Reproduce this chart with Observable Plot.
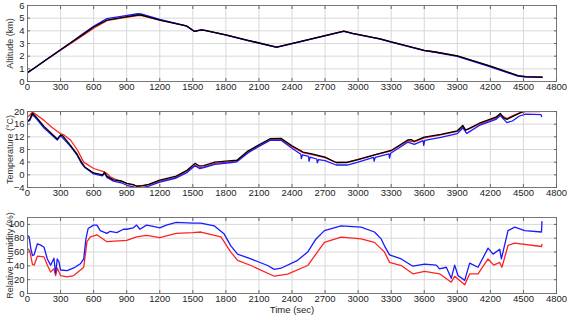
<!DOCTYPE html>
<html><head><meta charset="utf-8">
<script src="https://cdn.jsdelivr.net/npm/d3@7"></script>
<script src="https://cdn.jsdelivr.net/npm/@observablehq/plot@0.6"></script>
<style>body{margin:0;background:#fff}#c svg{display:block;overflow:visible}</style>
</head><body><div id="c"></div>
<script>
const xTicks = [0,300,600,900,1200,1500,1800,2100,2400,2700,3000,3300,3600,3900,4200,4500,4800];
const altTicks = [0,1,2,3,4,5,6];
const tempTicks = [-4,0,4,8,12,16,20];
const rhTicks = [0,20,40,60,80,100];

const altBlack = [[0,0.7],[60,1.05],[150,1.6],[300,2.5],[400,3.1],[500,3.7],[600,4.3],[720,4.85],[850,5.05],[1000,5.25],[1030,5.25],[1200,4.85],[1440,4.4],[1490,4.1],[1515,3.95],[1545,4.02],[1580,4.08],[1620,4.02],[1800,3.68],[2000,3.25],[2260,2.72],[2500,3.2],[2870,3.97],[2950,3.8],[3200,3.37],[3300,3.12],[3600,2.45],[3700,2.33],[3900,2.02],[4200,1.21],[4450,0.47],[4520,0.38],[4670,0.34]];
const altBlue = [[0,0.7],[60,1.05],[150,1.6],[300,2.5],[400,3.12],[500,3.75],[600,4.35],[720,4.97],[850,5.15],[1000,5.35],[1030,5.33],[1200,4.9],[1440,4.4],[1490,4.1],[1515,3.95],[1545,4.02],[1580,4.08],[1620,4.02],[1800,3.66],[2000,3.23],[2260,2.7],[2500,3.18],[2870,3.96],[2950,3.78],[3200,3.35],[3300,3.1],[3600,2.43],[3700,2.3],[3900,1.98],[4200,1.15],[4450,0.42],[4520,0.35],[4670,0.32]];
const altRed = [[0,0.7],[60,1.05],[150,1.6],[300,2.48],[400,3.05],[500,3.62],[600,4.2],[720,4.8],[850,5.0],[1000,5.2],[1030,5.22],[1200,4.85],[1440,4.4],[1490,4.1],[1515,3.95],[1545,4.02],[1580,4.08],[1620,4.02],[1800,3.68],[2000,3.25],[2260,2.72],[2500,3.2],[2870,3.97],[2950,3.8],[3200,3.37],[3300,3.12],[3600,2.45],[3700,2.33],[3900,2.02],[4200,1.21],[4450,0.47],[4520,0.38],[4670,0.34]];

const tRed = [[0,18.3],[20,18.8],[45,19.8],[100,18.5],[150,17.2],[220,15],[300,13],[330,12.6],[390,11],[450,8],[510,4],[600,2],[690,1],[720,0.4],[750,-0.6],[800,-1.4],[900,-2.7],[1000,-3.6],[1100,-3.1],[1200,-2],[1350,-0.8],[1450,1.3],[1520,3.0],[1560,2.4],[1600,2.4],[1700,3.6],[1850,4.2],[1900,4.4],[2000,7.2],[2100,9.2],[2200,11.0],[2300,11.1],[2400,8.9],[2500,7.0],[2580,6.4],[2700,5.4],[2800,3.9],[2900,4.0],[3000,4.9],[3150,6.3],[3300,7.6],[3450,10.7],[3510,10.4],[3600,11.7],[3750,12.6],[3900,13.7],[3950,15.0],[3975,14.2],[4000,14.4],[4100,16.0],[4250,17.9],[4290,19.0],[4350,17.8],[4400,18.6],[4460,19.5],[4520,20.0],[4650,20.0]];
const tBlue = [[0,16.8],[20,17.2],[45,19.0],[80,17.8],[150,14.8],[220,12.6],[270,11.0],[300,12.4],[390,9.0],[450,6.2],[490,3.6],[520,2.3],[600,0.3],[680,-0.3],[700,0.5],[720,-0.8],[780,-2.0],[850,-2.5],[900,-3.3],[960,-3.8],[990,-4.1],[1050,-4.0],[1100,-3.6],[1200,-2.3],[1350,-1.0],[1450,0.8],[1500,2.3],[1520,2.9],[1560,2.0],[1600,2.3],[1700,3.3],[1850,3.9],[1900,4.1],[2000,6.9],[2100,9.0],[2200,10.9],[2300,10.9],[2400,8.4],[2480,6.5],[2485,5.1],[2495,6.3],[2550,5.8],[2555,4.3],[2565,5.6],[2625,5.0],[2630,3.8],[2640,4.8],[2700,4.5],[2800,3.1],[2900,3.1],[3000,4.0],[3140,5.5],[3145,4.3],[3155,5.5],[3280,6.6],[3285,5.3],[3295,6.8],[3450,10.3],[3510,9.6],[3590,10.8],[3595,9.3],[3605,10.9],[3750,11.8],[3900,13.0],[3950,14.8],[3985,13.1],[4000,13.4],[4100,15.6],[4250,17.5],[4290,18.7],[4350,16.5],[4400,17.0],[4460,18.5],[4520,19.2],[4660,19.0],[4665,18.4]];
const tBlack = [[0,17.0],[20,17.5],[45,19.5],[80,18.2],[150,15.3],[220,13],[270,11.3],[300,12.6],[320,12.3],[390,9.3],[450,6.5],[490,4.0],[520,2.5],[600,0.6],[680,0],[700,0.8],[720,-0.4],[780,-1.6],[850,-1.9],[900,-2.7],[960,-3.1],[990,-3.6],[1050,-3.4],[1100,-3.0],[1200,-1.7],[1350,-0.4],[1450,1.5],[1500,3.0],[1520,3.6],[1560,2.8],[1600,2.9],[1700,4.0],[1850,4.5],[1900,4.6],[2000,7.5],[2100,9.5],[2200,11.4],[2300,11.5],[2400,9.2],[2500,7.2],[2580,6.6],[2700,5.6],[2800,3.9],[2900,3.9],[3000,4.8],[3150,6.3],[3300,7.7],[3450,11.0],[3480,11.1],[3510,10.6],[3600,11.9],[3750,12.8],[3900,13.9],[3950,15.6],[3975,14.1],[4000,14.5],[4100,16.3],[4250,18.2],[4290,19.4],[4320,18.0],[4350,17.5],[4400,18.4],[4460,19.4],[4500,20.1],[4530,20.4]];

const rhBlue = [[0,84],[15,82],[30,65],[45,55],[60,56],[90,72],[120,70],[150,67],[180,50],[210,41],[240,51],[255,29],[270,50],[285,46],[300,34],[360,33],[420,37],[480,43],[510,50],[530,79],[550,94],[600,99],[630,99],[660,91],[720,87],[750,90],[810,88],[870,93],[900,93],[960,95],[990,99],[1020,93],[1080,99],[1140,97],[1200,95],[1260,99],[1350,103],[1500,102],[1573,102],[1694,98],[1785,86],[1845,69],[1906,57],[2027,50],[2179,40.5],[2239,35],[2300,36.6],[2451,48],[2542,60],[2618,79],[2694,91],[2845,98],[3027,96],[3148,89],[3209,79],[3239,69],[3285,56],[3391,50],[3497,39.5],[3603,42.5],[3709,41],[3739,35.7],[3800,38],[3845,22],[3876,41],[3906,26],[3967,19],[4012,44],[4088,38],[4179,65.6],[4224,57],[4285,64],[4300,50],[4360,91],[4421,96],[4512,91],[4664,89],[4668,104]];
const rhRed = [[0,65],[20,62],[45,42],[60,41],[90,54],[150,53],[180,41],[210,31],[240,36],[255,26],[270,37],[300,26],[360,24],[420,26],[480,34],[510,38],[540,75],[570,82],[630,85],[720,75],[900,77],[990,82],[1080,84],[1200,81],[1350,87],[1500,88],[1573,89],[1755,82],[1845,60],[1906,48],[2027,40.5],[2239,25],[2360,28],[2542,40.5],[2694,74],[2845,81.5],[3027,79],[3148,74],[3209,64.6],[3239,60],[3285,45],[3391,40.5],[3497,28.5],[3603,32],[3739,28.5],[3845,16.4],[3876,25],[3967,12.5],[4012,28.5],[4088,28.5],[4179,50],[4230,41],[4285,45],[4305,38],[4360,69.5],[4421,73],[4664,68],[4668,71]];

const RED = "#f22", BLUE = "#1a1aff", BLACK = "#000";
const fmt = d3.format("d");

function panel({series, domain, ticks, label, height, mt, mb, xlabel}) {
  const marks = [
    Plot.gridX(xTicks, {stroke: "#d8d8d8", strokeOpacity: 1}),
    Plot.gridY(ticks, {stroke: "#d8d8d8", strokeOpacity: 1}),
    ...series.map(([d, c]) => Plot.line(d, {x: "0", y: "1", stroke: c, strokeWidth: 1.3, clip: true})),
    Plot.frame({stroke: "#777"}),
    Plot.axisX(xTicks, {anchor: "bottom", tickSize: -3, tickFormat: () => "", label: null, stroke: "#666"}),
    Plot.axisX(xTicks, {anchor: "top", tickSize: -3, tickFormat: () => "", label: null, stroke: "#666"}),
    Plot.axisY(ticks, {anchor: "left", tickSize: -3, tickFormat: () => "", label: null, stroke: "#666"}),
    Plot.axisY(ticks, {anchor: "right", tickSize: -3, tickFormat: () => "", label: null, stroke: "#666"}),
    Plot.axisX(xTicks, {anchor: "bottom", tickSize: 0, tickPadding: 2, tickFormat: fmt, fontSize: 9.5, label: null}),
    Plot.axisY(ticks, {anchor: "left", tickSize: 0, tickPadding: 3, tickFormat: fmt, fontSize: 9.5, label: null}),
    Plot.axisY(ticks, {anchor: "left", tickSize: 0, tickFormat: () => "", label, labelAnchor: "center", labelOffset: 21, labelArrow: "none", fontSize: 9, fill: "#333"})
  ];
  if (xlabel) marks.push(Plot.axisX(xTicks, {anchor: "bottom", tickSize: 0, tickFormat: () => "", label: xlabel, labelAnchor: "center", labelOffset: 19, labelArrow: "none", fontSize: 9.5}));
  return Plot.plot({
    width: 567, height, marginLeft: 27, marginRight: 11, marginTop: mt, marginBottom: mb,
    style: {fontFamily: "'Liberation Sans', Arial, sans-serif", fontSize: "10px", color: "#222", background: "#fff"},
    x: {domain: [0, 4800]},
    y: {domain},
    marks
  });
}
const c = document.getElementById("c");
c.append(panel({series: [[altRed, RED], [altBlue, BLUE], [altBlack, BLACK]], domain: [0, 6], ticks: altTicks, label: "Altitude (km)", height: 100, mt: 5, mb: 19}));
c.append(panel({series: [[tRed, RED], [tBlue, BLUE], [tBlack, BLACK]], domain: [-4, 20], ticks: tempTicks, label: "Temperature (°C)", height: 105, mt: 11, mb: 18}));
c.append(panel({series: [[rhRed, RED], [rhBlue, BLUE]], domain: [0, 110], ticks: rhTicks, label: "Relative Humidity (%)", height: 110, mt: 12, mb: 22, xlabel: "Time (sec)"}));
</script></body></html>
